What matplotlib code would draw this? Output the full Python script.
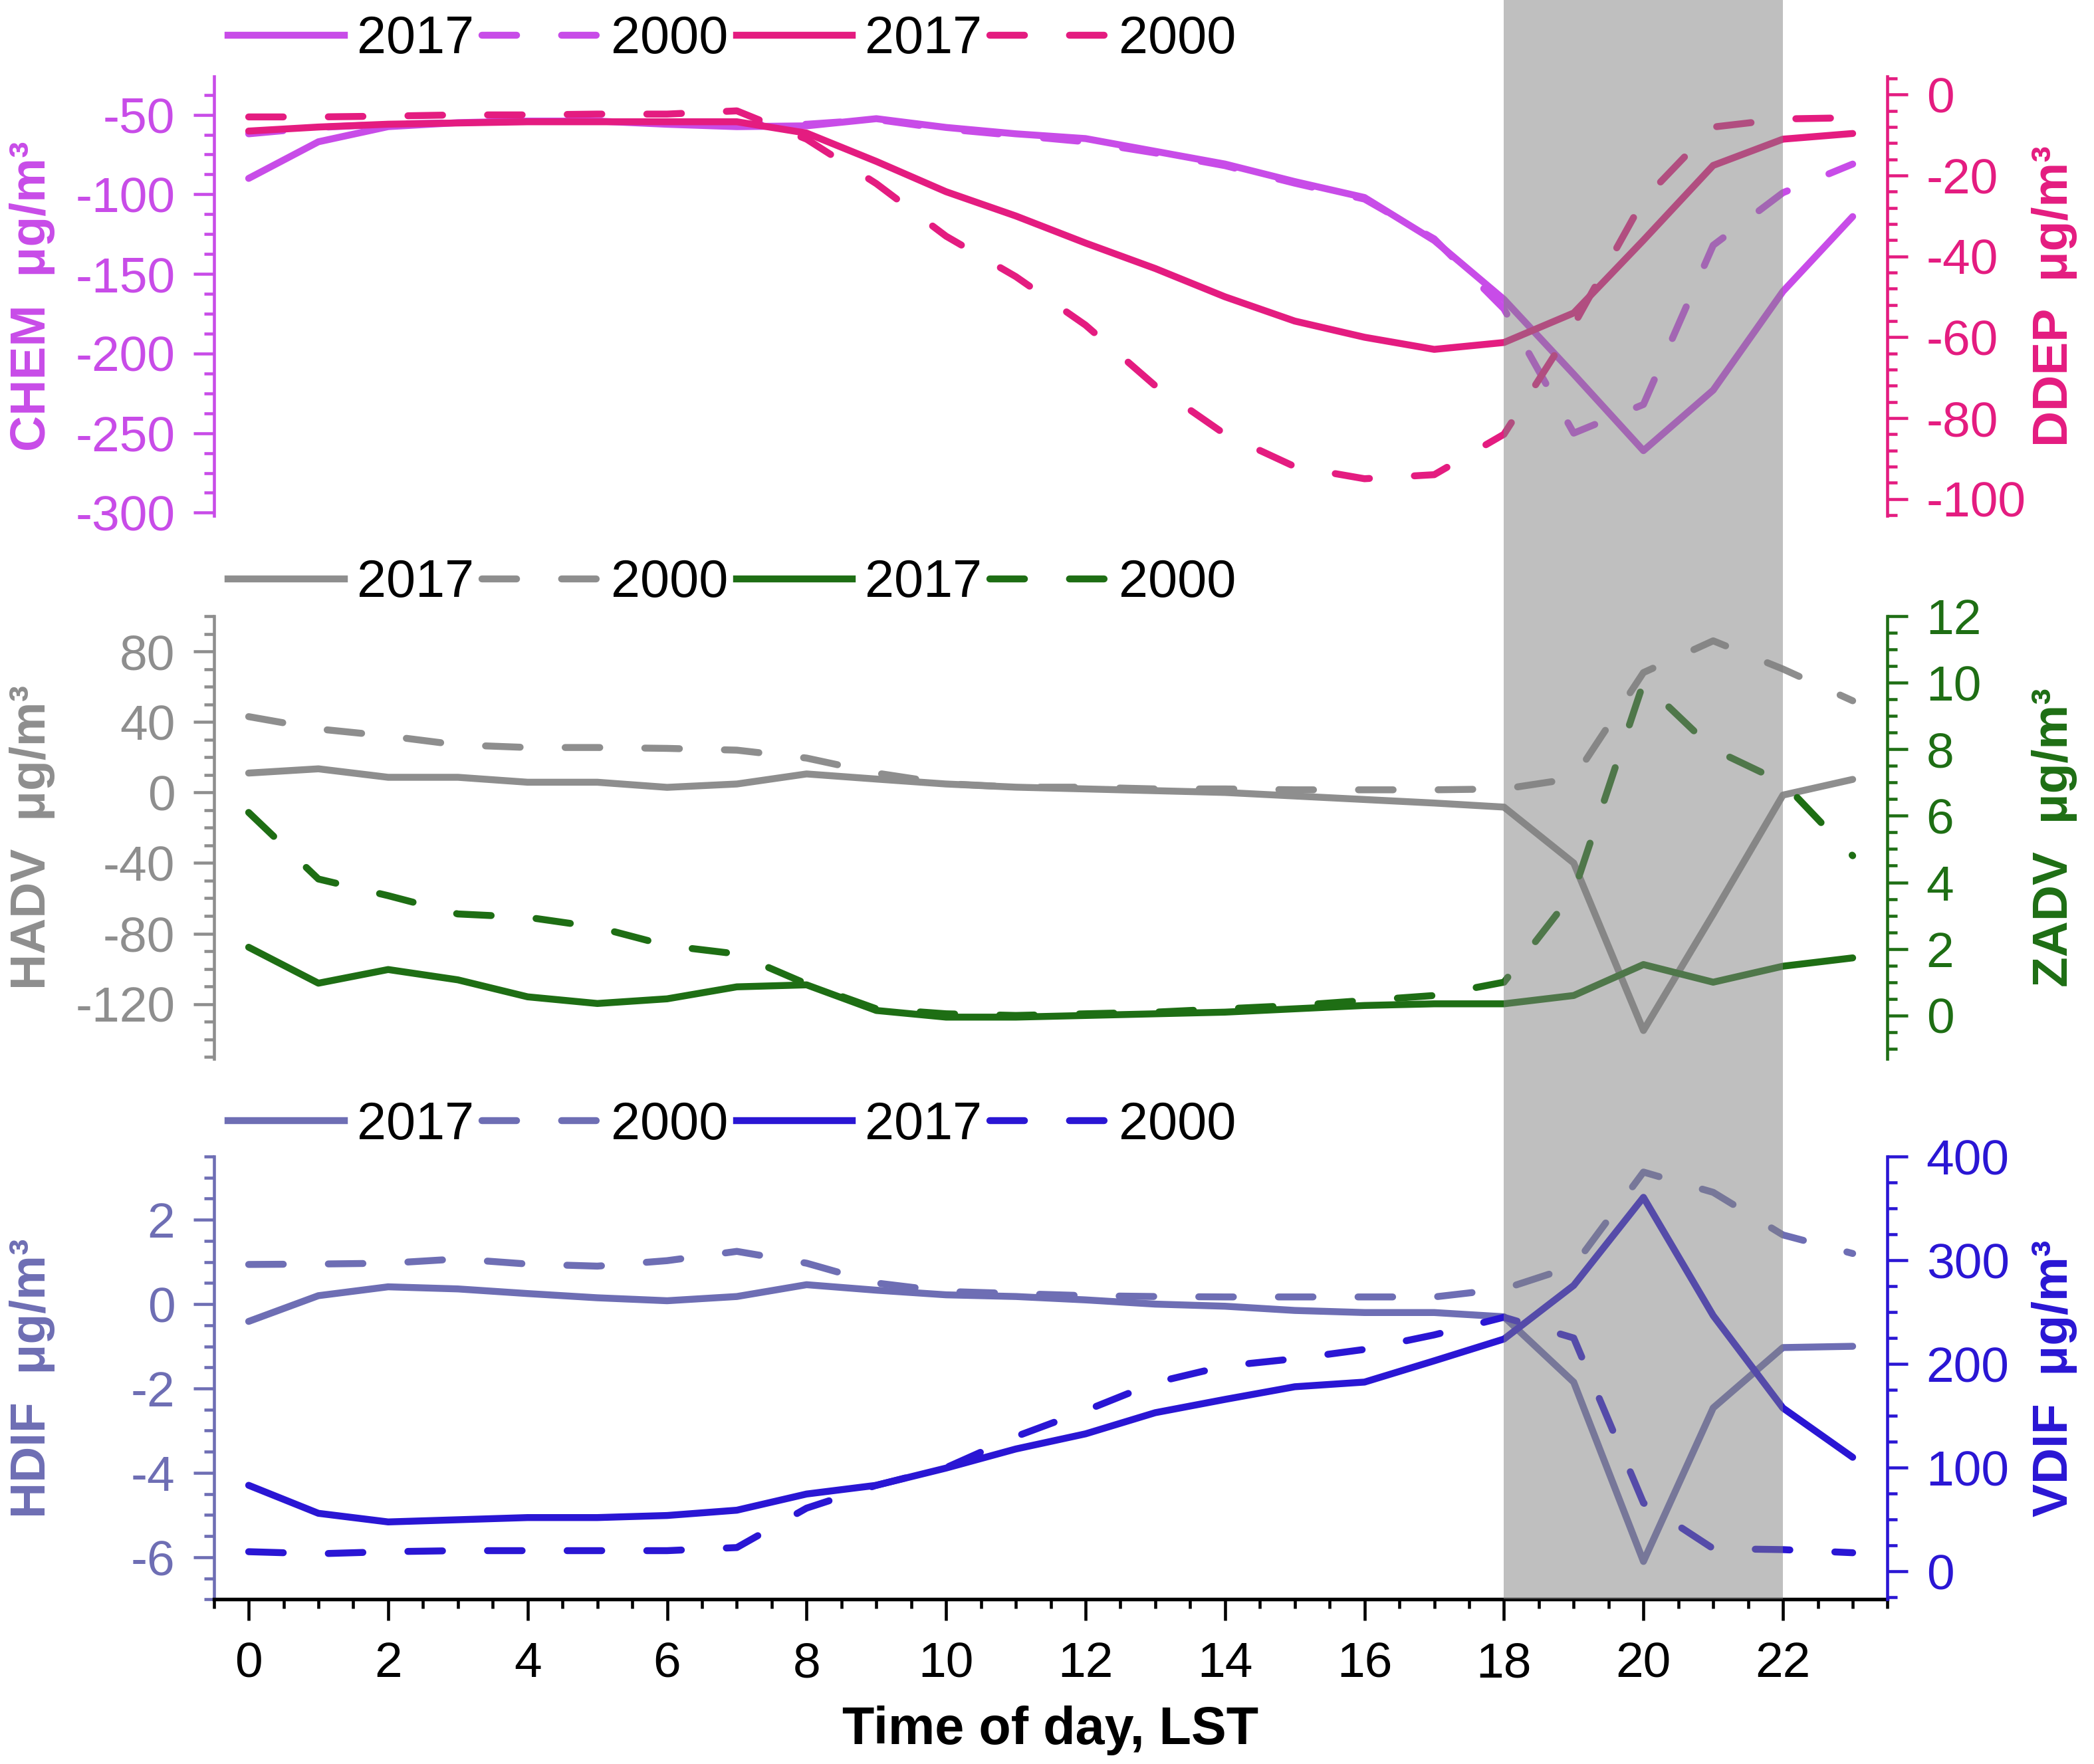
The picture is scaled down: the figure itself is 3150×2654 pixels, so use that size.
import matplotlib
matplotlib.use("Agg")
import matplotlib.pyplot as plt
from matplotlib.lines import Line2D
from matplotlib.patches import Rectangle
from matplotlib.ticker import MultipleLocator
from matplotlib.transforms import blended_transform_factory

plt.rcParams['font.family'] = ['Liberation Sans', 'DejaVu Sans']
plt.rcParams['axes.unicode_minus'] = False

hours = list(range(24))

chem_2017 = [-90, -67, -57.5, -55, -54, -54, -56, -57.5, -57, -52.5, -58, -62, -65, -73, -81, -92,
             -102, -129, -166, -213, -261, -223, -161, -114]
chem_2000 = [-62, -58, -56, -55, -54, -54, -55, -56, -56, -53, -59, -63, -67, -74, -82, -93,
             -103, -128, -172, -250, -232, -132, -99, -81]
ddep_2017 = [-9, -8, -7.3, -7, -6.7, -6.7, -6.7, -6.7, -9.5, -16.5, -24, -30, -36.7, -43, -50, -56,
             -60, -63, -61.3, -54, -36, -17.5, -11, -9.6]
ddep_2000 = [-5.5, -5.5, -5.3, -5, -5, -4.8, -4.8, -4, -11, -22, -35, -45, -57, -72, -84, -92,
             -95, -94, -84, -57, -26, -8, -6, -5.7]

hadv_2017 = [11, 13.4, 8.6, 8.6, 5.8, 5.8, 2.9, 4.8, 10.5, 7.6, 4.8, 3, 2, 1, 0, -2,
             -4, -6, -8.3, -40, -135, -69, -1.5, 7.4]
hadv_2000 = [43, 36, 32, 27, 25.5, 25.5, 25, 24, 19.5, 11, 5, 3, 3, 2, 2, 1.5,
             1.5, 1.5, 2, 8, 68, 86, 70, 52]
zadv_2017 = [2.05, 0.97, 1.38, 1.07, 0.56, 0.36, 0.5, 0.86, 0.92, 0.15, -0.05, -0.05, 0.0, 0.05, 0.1, 0.2,
             0.3, 0.35, 0.35, 0.6, 1.53, 1.0, 1.48, 1.73]
zadv_2000 = [6.1, 4.1, 3.6, 3.05, 2.95, 2.65, 2.1, 1.85, 0.95, 0.2, 0.05, 0.0, 0.05, 0.1, 0.2, 0.3,
             0.45, 0.6, 1.0, 3.7, 10.0, 8.0, 7.0, 4.8]

hdif_2017 = [-0.41, 0.2, 0.41, 0.36, 0.25, 0.15, 0.08, 0.18, 0.46, 0.33, 0.22, 0.18, 0.1, 0.0, -0.05, -0.15,
             -0.2, -0.2, -0.3, -1.85, -6.1, -2.46, -1.03, -1.0]
hdif_2000 = [0.94, 0.95, 0.97, 1.07, 0.95, 0.9, 1.03, 1.25, 0.97, 0.5, 0.3, 0.25, 0.2, 0.18, 0.17, 0.17,
             0.17, 0.17, 0.36, 0.9, 3.13, 2.65, 1.64, 1.2]
vdif_2017 = [83, 56, 47.7, 49.8, 51.9, 51.9, 53.9, 59, 74.6, 83, 99.6, 118, 132.6, 153, 165.8, 178,
             182.5, 203, 224, 275.7, 360.6, 246.6, 157.5, 110]
vdif_2000 = [19, 17, 19, 20, 20, 20, 20, 23, 61, 83, 100, 130, 155, 182, 198, 205,
             214, 228, 245, 225, 66, 22, 21, 18]

night_start, night_end = 18, 22
legend_labels = ['2017', '2000', '2017', '2000']

c_chem = '#C84CE8'
c_ddep = '#E41C80'
c_hadv = '#8E8E8E'
c_zadv = '#1E6E14'
c_hdif = '#6E6EB4'
c_vdif = '#2A16D4'

LW = 2.5
DASH = (5, 6.5)
left_x, right_x = 0.1021, 0.9014

fig = plt.figure(figsize=(10.5, 8.847), dpi=300)


def style_y(ax, color, side, major, minor, lim):
    ax.set_ylim(*lim)
    ax.yaxis.set_major_locator(MultipleLocator(major))
    ax.yaxis.set_minor_locator(MultipleLocator(minor))
    ax.tick_params(axis='y', which='major', length=7.5, width=1.1, colors=color,
                   labelsize=18, pad=6.5)
    ax.tick_params(axis='y', which='minor', length=3.6, width=1.1, colors=color)
    for s in ['top', 'bottom', 'left', 'right']:
        ax.spines[s].set_visible(s == side)
    ax.spines[side].set_color(color)
    ax.spines[side].set_linewidth(1.1)


def panel(bottom, top, s1, s2, t1, t2, c1, c2, lab1, lab2, lim1, lim2, loc1, loc2, leg_y):
    ax = fig.add_axes([left_x, bottom, right_x - left_x, top - bottom])
    ax.patch.set_visible(False)
    axr = ax.twinx()
    axr.patch.set_visible(False)
    ax.plot(hours, s1, color=c1, lw=LW, solid_capstyle='round')
    ax.plot(hours, s2, color=c1, lw=LW, dashes=DASH, dash_capstyle='round')
    axr.plot(hours, t1, color=c2, lw=LW, solid_capstyle='round')
    axr.plot(hours, t2, color=c2, lw=LW, dashes=DASH, dash_capstyle='round')
    ax.set_xlim(-0.5, 23.5)
    style_y(ax, c1, 'left', loc1[0], loc1[1], lim1)
    style_y(axr, c2, 'right', loc2[0], loc2[1], lim2)
    ax.set_ylabel(lab1, color=c1, fontsize=18, fontweight='bold')
    axr.set_ylabel(lab2, color=c2, fontsize=18, fontweight='bold', rotation=90)
    ax.yaxis.set_label_coords(-0.0947, 0.5)
    axr.yaxis.set_label_coords(1.086, 0.5)
    axr.yaxis.label.set_verticalalignment('top')
    handles = [Line2D([], [], color=c1, lw=LW),
               Line2D([], [], color=c1, lw=LW, dashes=DASH, dash_capstyle='round'),
               Line2D([], [], color=c2, lw=LW),
               Line2D([], [], color=c2, lw=LW, dashes=DASH, dash_capstyle='round')]
    fig.legend(handles=handles, labels=legend_labels, loc='center left',
               bbox_to_anchor=(0.109, leg_y), ncol=4, frameon=False, fontsize=19,
               handlelength=2.2, handletextpad=0.25, columnspacing=0.15,
               borderpad=0, borderaxespad=0)
    return ax, axr


ax1, ax1r = panel(0.7075, 0.9566, chem_2017, chem_2000, ddep_2017, ddep_2000, c_chem, c_ddep,
                  'CHEM  μg/m³', 'DDEP  μg/m³', (-302, -26), (-104.2, 4.5), (50, 12.5), (20, 4), 0.9774)
ax2, ax2r = panel(0.3998, 0.6507, hadv_2017, hadv_2000, zadv_2017, zadv_2000, c_hadv, c_zadv,
                  'HADV  μg/m³', 'ZADV  μg/m³', (-151, 100), (-1.3, 12), (40, 10), (2, 0.5), 0.6692)
ax3, ax3r = panel(0.0933, 0.3444, hdif_2017, hdif_2000, vdif_2017, vdif_2000, c_hdif, c_vdif,
                  'HDIF  μg/m³', 'VDIF  μg/m³', (-7, 3.5), (-27, 400), (2, 0.5), (100, 25), 0.3619)

for ax in [ax1, ax2]:
    ax.tick_params(axis='x', which='both', bottom=False, labelbottom=False)

ax3.spines['bottom'].set_visible(True)
ax3.spines['bottom'].set_color('black')
ax3.spines['bottom'].set_linewidth(1.3)
ax3.xaxis.set_major_locator(MultipleLocator(2))
ax3.xaxis.set_minor_locator(MultipleLocator(0.5))
ax3.tick_params(axis='x', which='major', length=7.6, width=1.1, labelsize=18, pad=7.5)
ax3.tick_params(axis='x', which='minor', length=3.4, width=1.1)
ax3.set_xlabel('Time of day, LST', fontsize=19, fontweight='bold')
ax3.xaxis.set_label_coords(0.5, -0.24)
ax3.xaxis.label.set_verticalalignment('top')

# night-time shading laid over all three panels
trans = blended_transform_factory(ax3.transData, fig.transFigure)
shade = Rectangle((night_start, 0.0933), night_end - night_start, 1 - 0.0933,
                  transform=trans, facecolor='#808080', edgecolor='none', alpha=0.5, zorder=10)
fig.add_artist(shade)

fig.savefig('out.png', dpi=300)
